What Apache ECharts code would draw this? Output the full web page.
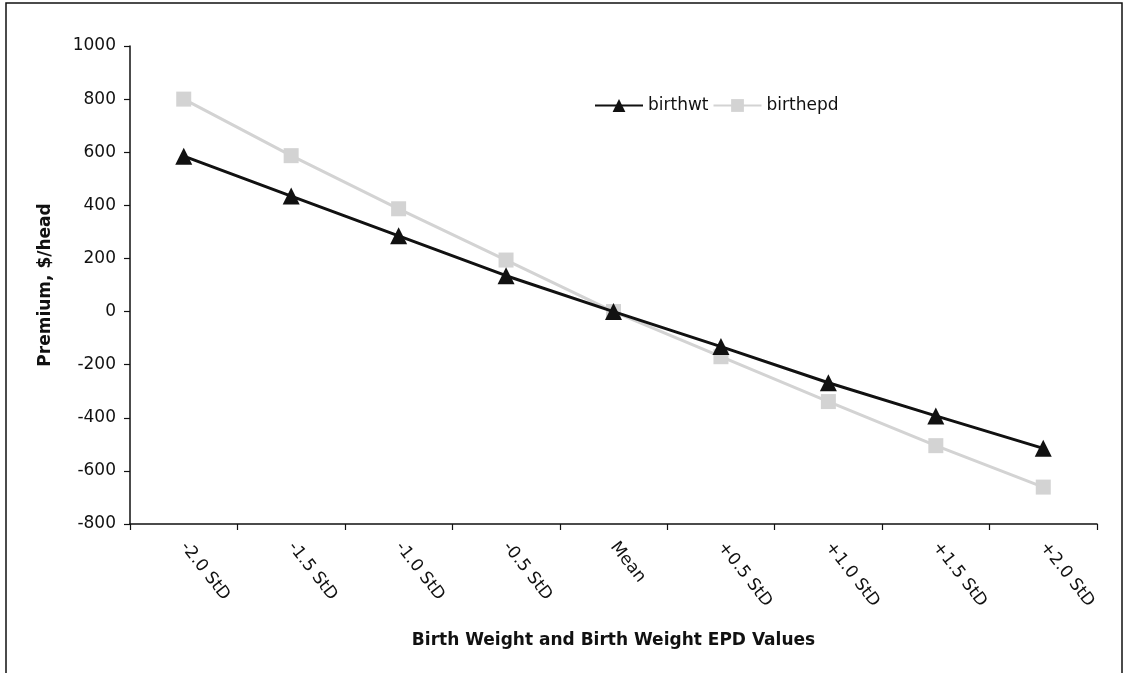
<!DOCTYPE html>
<html>
<head>
<meta charset="utf-8">
<script src="https://cdn.jsdelivr.net/npm/echarts@6/dist/echarts.min.js"></script>
<style>
html,body{margin:0;padding:0;background:#fff;}
#chart{width:1124px;height:673px;}
</style>
</head>
<body>
<div id="chart"></div>
<script>
const categories = ['-2.0 StD','-1.5 StD','-1.0 StD','-0.5 StD','Mean','+0.5 StD','+1.0 StD','+1.5 StD','+2.0 StD'];
const birthwt = [585, 435, 285, 135, 0, -132, -268, -393, -515];
const birthepd = [800, 587, 387, 194, 0, -170, -339, -505, -661];
const yMin = -800, yMax = 1000, yStep = 200;

const FONT = 'DejaVu Sans, Arial, sans-serif';
const chart = echarts.init(document.getElementById('chart'));
chart.setOption({
  animation: false,
  backgroundColor: '#fff',
  graphic: [{
    type: 'rect', shape: {x: 6, y: 3, width: 1116, height: 690},
    style: {fill: 'none', stroke: '#111', lineWidth: 1.5}, z: -1
  }],
  grid: {left: 130, right: 27, top: 46, bottom: 149},
  legend: {
    left: 589, top: 92,
    itemWidth: 48, itemHeight: 16, itemGap: 4,
    textStyle: {fontFamily: FONT, fontSize: 17, color: '#111'},
    data: ['birthwt', 'birthepd']
  },
  xAxis: {
    type: 'category', data: categories, boundaryGap: true,
    name: 'Birth Weight and Birth Weight EPD Values',
    nameLocation: 'middle', nameGap: 108,
    nameTextStyle: {fontFamily: FONT, fontSize: 17, fontWeight: 'bold', color: '#111'},
    axisLine: {onZero: false, lineStyle: {color: '#111', width: 1.5}},
    axisTick: {show: true, interval: 0, length: 6, lineStyle: {color: '#111', width: 1.2}},
    axisLabel: {interval: 0, rotate: -52, margin: 20, fontFamily: FONT, fontSize: 17, color: '#111'},
    splitLine: {show: false}
  },
  yAxis: {
    type: 'value', min: yMin, max: yMax, interval: yStep,
    name: 'Premium, $/head', nameLocation: 'middle', nameGap: 76,
    nameTextStyle: {fontFamily: FONT, fontSize: 17, fontWeight: 'bold', color: '#111'},
    axisLine: {show: true, lineStyle: {color: '#111', width: 1.5}},
    axisTick: {show: true, length: 6, lineStyle: {color: '#111', width: 1.2}},
    axisLabel: {margin: 14, fontFamily: FONT, fontSize: 17, color: '#111', formatter: v => String(v)},
    splitLine: {show: false}
  },
  series: [
    {
      name: 'birthwt', type: 'line', data: birthwt,
      symbol: 'triangle', symbolSize: 17,
      lineStyle: {color: '#111', width: 3},
      itemStyle: {color: '#111'}, z: 3
    },
    {
      name: 'birthepd', type: 'line', data: birthepd,
      symbol: 'rect', symbolSize: 15,
      lineStyle: {color: '#d3d3d3', width: 3},
      itemStyle: {color: '#d3d3d3'}, z: 2
    }
  ]
});
</script>
</body>
</html>
